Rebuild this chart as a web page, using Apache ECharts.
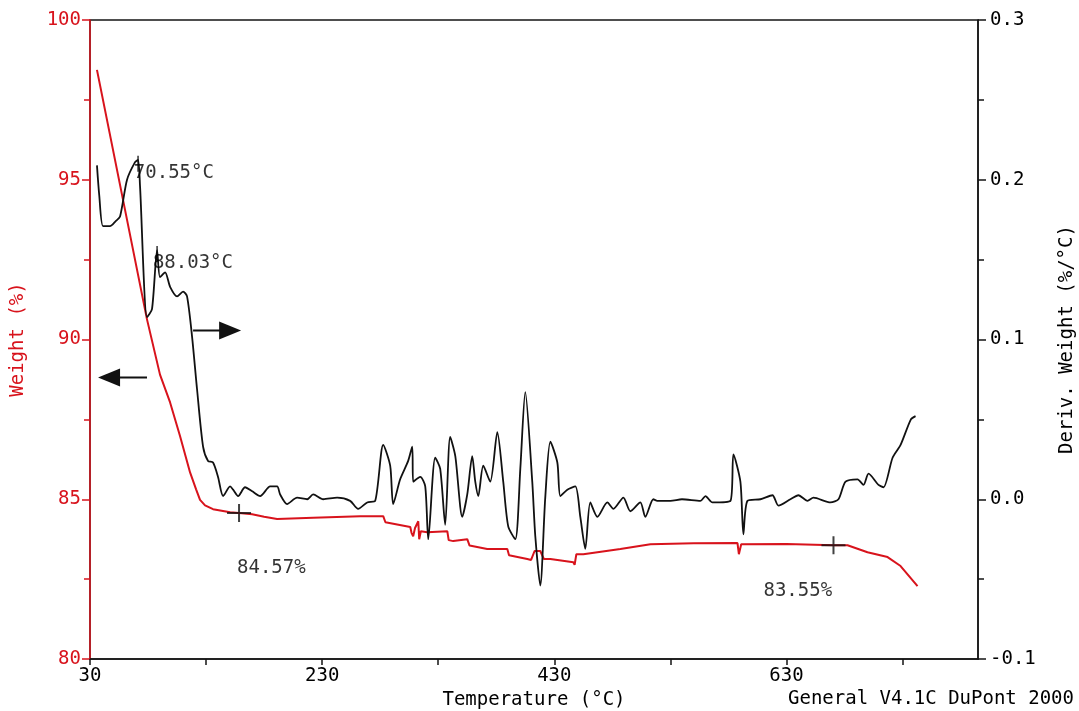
<!DOCTYPE html>
<html>
<head>
<meta charset="utf-8">
<script src="https://cdn.jsdelivr.net/npm/echarts@6/dist/echarts.min.js"></script>
<style>
  html, body { margin: 0; padding: 0; background: #fff; }
  #chart { width: 1079px; height: 711px; }
</style>
</head>
<body>
<div id="chart"></div>
<script>
// TGA run: weight (%) and derivative weight (%/°C) against temperature (°C)
const weightTemp = [36.0, 79.1, 90.3, 99.0, 107.6, 116.2, 121.4, 124.8, 129.1, 136.0, 150.7, 158.4, 169.7, 180, 191.2, 222.2, 262.8, 282.6, 284.5, 305.9, 307, 308.4, 310.0, 312.8, 313.6, 315, 320.5, 337.8, 339, 342.9, 355.0, 357, 372.2, 389.5, 391, 406.7, 410, 413, 417.9, 421, 426.6, 446.4, 447.5, 449, 455.0, 486.9, 512.8, 550.0, 587.8, 589, 590.3, 591, 630.0, 670.5, 682.6, 699.8, 717.1, 728.3, 742.9];
const weightPct = [98.44, 90.63, 88.9, 88.03, 86.97, 85.84, 85.31, 84.98, 84.81, 84.69, 84.59, 84.57, 84.53, 84.45, 84.38, 84.42, 84.47, 84.47, 84.28, 84.13, 83.95, 83.84, 84.1, 84.31, 83.75, 84.0, 83.97, 84.0, 83.72, 83.69, 83.75, 83.55, 83.44, 83.44, 83.25, 83.13, 83.1, 83.38, 83.38, 83.13, 83.13, 83.03, 82.95, 83.28, 83.28, 83.44, 83.59, 83.62, 83.63, 83.28, 83.3, 83.59, 83.6, 83.56, 83.56, 83.34, 83.19, 82.91, 82.28];

const derivTemp = [36.0, 38.0, 41.2, 47.2, 52.0, 55.9, 61.9, 68.8, 71.4, 73.1, 79.1, 83.4, 87.8, 90.3, 94.7, 99.0, 105.0, 110.2, 113.6, 117.9, 122.2, 127.4, 131.7, 136.0, 140.3, 144.7, 150.7, 153.3, 157.6, 163.6, 169.7, 176.6, 185.2, 191.2, 193.8, 199.8, 208.4, 217.1, 222.2, 230.9, 242.9, 254.1, 261.0, 268.8, 275.7, 282.6, 288.6, 291.2, 297.2, 304.1, 307.6, 308.4, 314.5, 318.8, 321.4, 327.4, 331.7, 336.0, 340.3, 344.7, 350.7, 355.0, 359.3, 361.9, 364.5, 368.8, 374.8, 380.9, 386.0, 390.3, 396.4, 400.7, 405.0, 411.0, 413.6, 417.9, 422.2, 426.6, 432.6, 435.2, 441.2, 448.1, 452.4, 456.7, 461.0, 467.1, 475.7, 480.9, 489.5, 495.5, 504.1, 508.4, 515.3, 518.8, 530.0, 540.0, 555.9, 560.2, 566.2, 581.7, 584.3, 590.3, 592.9, 596.4, 607.6, 617.9, 623.1, 633.4, 640.3, 648.1, 653.3, 667.9, 674.8, 680.9, 691.2, 696.4, 700.7, 709.3, 713.6, 721.4, 728.3, 737.2, 741.2];
const derivValue = [0.209, 0.19, 0.171, 0.171, 0.174, 0.177, 0.2, 0.211, 0.2125, 0.196, 0.114, 0.119, 0.156, 0.139, 0.142, 0.133, 0.127, 0.13, 0.127, 0.102, 0.069, 0.033, 0.024, 0.023, 0.014, 0.002, 0.008, 0.006, 0.002, 0.0075, 0.005, 0.002, 0.008, 0.008, 0.003, -0.003, 0.001, 0.0, 0.003, 0.0, 0.001, -0.001, -0.006, -0.002, -0.001, 0.034, 0.021, -0.003, 0.0125, 0.024, 0.033, 0.011, 0.014, 0.008, -0.025, 0.026, 0.019, -0.016, 0.039, 0.027, -0.011, 0.003, 0.027, 0.011, 0.002, 0.021, 0.011, 0.042, 0.011, -0.017, -0.025, 0.019, 0.067, 0.011, -0.023, -0.054, 0.001, 0.036, 0.023, 0.002, 0.006, 0.008, -0.011, -0.031, -0.002, -0.011, -0.002, -0.006, 0.001, -0.0075, -0.002, -0.011, 0.0, -0.001, -0.001, 0.0, -0.001, 0.002, -0.002, -0.001, 0.028, 0.011, -0.022, -0.001, 0.0, 0.0025, -0.004, 0.0, 0.0025, -0.001, 0.001, -0.002, 0.0, 0.011, 0.0125, 0.009, 0.016, 0.009, 0.0075, 0.026, 0.034, 0.05, 0.052];

// annotated peaks on the derivative curve
const peakTemp = [71.4, 87.8];
const peakValue = [0.2125, 0.156];
const peakLabels = ['70.55°C', '88.03°C'];

// residual weight crosses
const crossTemp = [158.4, 670.5];
const crossWeight = [84.57, 83.56];
const crossLabels = ['84.57%', '83.55%'];

// axis arrows: [start T, end T, level]
const derivArrow = [118.8, 150.7, 0.1056];
const weightArrow = [79.1, 46.4, 88.81];

const RED = '#d8131c';
const INK = '#000';
const FONT = 'DejaVu Sans Mono';
const FS = 19;

const zip = (a, b) => a.map((v, i) => [v, b[i]]);

const chart = echarts.init(document.getElementById('chart'), null, { renderer: 'canvas' });

chart.setOption({
  animation: false,
  backgroundColor: '#fff',
  textStyle: { fontFamily: FONT },
  grid: {
    left: 90, right: 101, top: 20, bottom: 52,
    show: true, borderColor: '#151515', borderWidth: 1.5,
    outerBoundsMode: 'none'
  },
  xAxis: {
    type: 'value',
    min: 30, max: 795, interval: 100,
    name: 'Temperature (°C)',
    nameLocation: 'middle', nameGap: 30,
    nameTextStyle: { color: INK, fontSize: FS, fontFamily: FONT },
    axisLine: { onZero: false, lineStyle: { color: '#151515', width: 1.5 } },
    axisTick: { length: 6, lineStyle: { color: '#151515', width: 1.5 } },
    axisLabel: {
      color: INK, fontSize: FS, fontFamily: FONT, margin: 8,
      showMaxLabel: false,
      formatter: v => ((v - 30) % 200 === 0 ? String(v) : '')
    },
    splitLine: { show: false }
  },
  yAxis: [
    {
      type: 'value', position: 'left',
      min: 80, max: 100, interval: 5,
      name: 'Weight (%)', nameLocation: 'middle', nameGap: 62, nameRotate: 90,
      nameTextStyle: { color: RED, fontSize: FS, fontFamily: FONT },
      axisLine: { show: true, lineStyle: { color: RED, width: 1.5 } },
      axisTick: { show: true, length: 8, lineStyle: { color: RED, width: 1.5 } },
      minorTick: { show: true, splitNumber: 2, length: 6, lineStyle: { color: RED, width: 1.5 } },
      axisLabel: { color: RED, fontSize: FS, fontFamily: FONT, margin: 9 },
      splitLine: { show: false }
    },
    {
      type: 'value', position: 'right',
      min: -0.1, max: 0.3, interval: 0.1,
      name: 'Deriv. Weight (%/°C)', nameLocation: 'middle', nameGap: 80, nameRotate: 90,
      nameTextStyle: { color: INK, fontSize: FS, fontFamily: FONT },
      axisLine: { show: true, lineStyle: { color: '#151515', width: 1.5 } },
      axisTick: { show: true, length: 8, lineStyle: { color: '#151515', width: 1.5 } },
      minorTick: { show: true, splitNumber: 2, length: 6, lineStyle: { color: '#151515', width: 1.5 } },
      axisLabel: { color: INK, fontSize: FS, fontFamily: FONT, margin: 12, formatter: v => v.toFixed(1) },
      splitLine: { show: false }
    }
  ],
  series: [
    {
      name: 'Weight', type: 'line', yAxisIndex: 0,
      data: zip(weightTemp, weightPct),
      showSymbol: false, z: 3,
      lineStyle: { color: RED, width: 2 }
    },
    {
      name: 'Deriv. Weight', type: 'line', yAxisIndex: 1,
      data: zip(derivTemp, derivValue),
      showSymbol: false, z: 4, smooth: 0.25,
      lineStyle: { color: '#111', width: 1.8 }
    },
    {
      // peak ticks and temperature labels
      type: 'scatter', yAxisIndex: 1, z: 5,
      data: peakTemp.map((t, i) => ({ value: [t, peakValue[i]], label: { formatter: peakLabels[i] } })),
      symbol: 'rect', symbolSize: [1.6, 16], symbolOffset: [0, 4],
      itemStyle: { color: '#111' },
      label: {
        show: true, position: 'right', distance: 0, offset: [-5, 9],
        color: INK, fontSize: FS, fontFamily: FONT, textBorderWidth: 0
      }
    },
    {
      // residual weight crosses
      type: 'scatter', yAxisIndex: 0, z: 6,
      data: crossTemp.map((t, i) => ({
        value: [t, crossWeight[i]],
        label: { formatter: crossLabels[i], position: i === 0 ? [10, 64] : [-58, 55] }
      })),
      symbol: 'path://M0,8h24v2h-24z M11,0h2v18h-2z', symbolSize: [24, 18],
      itemStyle: { color: '#111' },
      label: {
        show: true, align: 'left', verticalAlign: 'middle',
        color: INK, fontSize: FS, fontFamily: FONT, textBorderWidth: 0
      }
    },
    {
      type: 'line', yAxisIndex: 1, z: 5,
      data: [
        { value: [derivArrow[0], derivArrow[2]], symbol: 'none' },
        { value: [derivArrow[1], derivArrow[2]], symbol: 'path://M0,0L10,5L0,10Z', symbolSize: [22, 18] }
      ],
      showSymbol: true, showAllSymbol: true,
      itemStyle: { color: '#111' }, lineStyle: { color: '#111', width: 2 }
    },
    {
      type: 'line', yAxisIndex: 0, z: 5,
      data: [
        { value: [weightArrow[0], weightArrow[2]], symbol: 'none' },
        { value: [weightArrow[1], weightArrow[2]], symbol: 'path://M10,0L0,5L10,10Z', symbolSize: [22, 18] }
      ],
      showSymbol: true, showAllSymbol: true,
      itemStyle: { color: '#111' }, lineStyle: { color: '#111', width: 2 }
    }
  ],
  graphic: [
    {
      type: 'text', right: 5, bottom: 2,
      style: { text: 'General V4.1C DuPont 2000', fill: INK, fontSize: FS, fontFamily: FONT }
    }
  ]
});
</script>
</body>
</html>
